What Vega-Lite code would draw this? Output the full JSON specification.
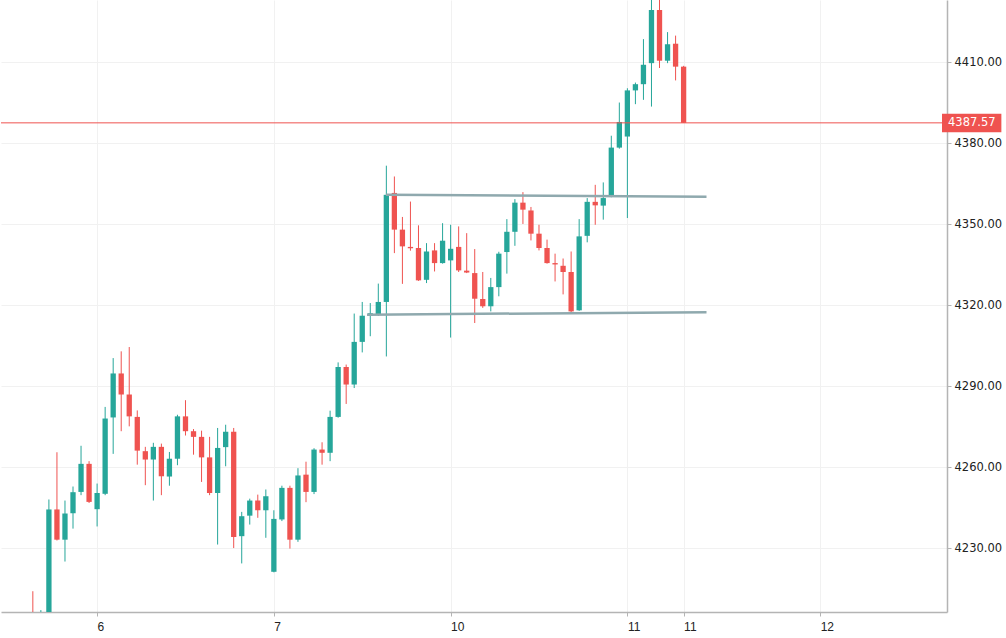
{
  "$schema": "https://vega.github.io/schema/vega-lite/v6.json",
  "width": 946,
  "height": 612,
  "padding": 0,
  "autosize": {"type": "pad"},
  "background": "#ffffff",
  "config": {
    "view": {"stroke": null},
    "axis": {
      "domainColor": "#b4b4b4",
      "domainWidth": 1.5,
      "tickColor": "#b4b4b4",
      "tickSize": 4,
      "gridColor": "#f1f1f1",
      "gridWidth": 1,
      "labelColor": "#222222",
      "labelFont": "DejaVu Sans",
      "labelFontSize": 11.5
    }
  },
  "datasets": {
    "candles": [
      {"i": 0, "o": 4205, "h": 4214, "l": 4195, "c": 4200},
      {"i": 1, "o": 4195, "h": 4207, "l": 4190, "c": 4203},
      {"i": 2, "o": 4203, "h": 4248, "l": 4195, "c": 4244.3},
      {"i": 3, "o": 4244.3, "h": 4265.5, "l": 4232.8, "c": 4233.1},
      {"i": 4, "o": 4233.1, "h": 4247.6, "l": 4225, "c": 4242.8},
      {"i": 5, "o": 4242.9, "h": 4252.8, "l": 4237.2, "c": 4250.7},
      {"i": 6, "o": 4250.8, "h": 4267.9, "l": 4249.6, "c": 4261.2},
      {"i": 7, "o": 4261.2, "h": 4262.2, "l": 4246.7, "c": 4247.1},
      {"i": 8, "o": 4244.4, "h": 4253.9, "l": 4238, "c": 4250.4},
      {"i": 9, "o": 4250.1, "h": 4282.3, "l": 4249.6, "c": 4278},
      {"i": 10, "o": 4278.4, "h": 4300.4, "l": 4264.9, "c": 4294.7},
      {"i": 11, "o": 4294.7, "h": 4302.9, "l": 4273.3, "c": 4286.9},
      {"i": 12, "o": 4286.9, "h": 4304.5, "l": 4275.1, "c": 4278.8},
      {"i": 13, "o": 4278.6, "h": 4281, "l": 4260.9, "c": 4266.1},
      {"i": 14, "o": 4265.9, "h": 4267.5, "l": 4253.3, "c": 4262.8},
      {"i": 15, "o": 4262.8, "h": 4269, "l": 4247.6, "c": 4267.5},
      {"i": 16, "o": 4267.5, "h": 4268.7, "l": 4249.6, "c": 4256.6},
      {"i": 17, "o": 4256.5, "h": 4265.6, "l": 4253.1, "c": 4263.1},
      {"i": 18, "o": 4263.1, "h": 4279.4, "l": 4260.7, "c": 4278.8},
      {"i": 19, "o": 4278.8, "h": 4284.8, "l": 4271.7, "c": 4273.3},
      {"i": 20, "o": 4273.3, "h": 4274.1, "l": 4264.6, "c": 4271.2},
      {"i": 21, "o": 4271.2, "h": 4273.5, "l": 4254.5, "c": 4263.6},
      {"i": 22, "o": 4263.6, "h": 4271.2, "l": 4249.6, "c": 4250.4},
      {"i": 23, "o": 4250.4, "h": 4274.5, "l": 4231.3, "c": 4267.1},
      {"i": 24, "o": 4267.4, "h": 4275.7, "l": 4260.3, "c": 4273.1},
      {"i": 25, "o": 4273.1, "h": 4274.5, "l": 4230, "c": 4234.1},
      {"i": 26, "o": 4234.4, "h": 4243.4, "l": 4224.3, "c": 4241.8},
      {"i": 27, "o": 4242, "h": 4248.3, "l": 4238.7, "c": 4247.6},
      {"i": 28, "o": 4247.6, "h": 4249.8, "l": 4241.2, "c": 4244},
      {"i": 29, "o": 4244, "h": 4251.7, "l": 4233.8, "c": 4249.2},
      {"i": 30, "o": 4221.2, "h": 4244, "l": 4221, "c": 4240.8},
      {"i": 31, "o": 4240.6, "h": 4253.1, "l": 4240, "c": 4252.3},
      {"i": 32, "o": 4252.3, "h": 4253.1, "l": 4229.8, "c": 4233.1},
      {"i": 33, "o": 4233.1, "h": 4259.6, "l": 4232.3, "c": 4256.9},
      {"i": 34, "o": 4257.2, "h": 4262, "l": 4247, "c": 4250.8},
      {"i": 35, "o": 4250.8, "h": 4267, "l": 4250, "c": 4266.5},
      {"i": 36, "o": 4266.5, "h": 4269.2, "l": 4260.9, "c": 4265.3},
      {"i": 37, "o": 4265.3, "h": 4280.9, "l": 4262.2, "c": 4278.6},
      {"i": 38, "o": 4278.6, "h": 4298.8, "l": 4278.3, "c": 4297.1},
      {"i": 39, "o": 4297.1, "h": 4298, "l": 4283.4, "c": 4290.6},
      {"i": 40, "o": 4290.6, "h": 4316.9, "l": 4289.3, "c": 4306.4},
      {"i": 41, "o": 4306.4, "h": 4321.2, "l": 4302.5, "c": 4316.1},
      {"i": 42, "o": 4316.1, "h": 4320.8, "l": 4308.5, "c": 4317},
      {"i": 43, "o": 4316.5, "h": 4328, "l": 4316, "c": 4321.2},
      {"i": 44, "o": 4321.2, "h": 4371.7, "l": 4301, "c": 4360.9},
      {"i": 45, "o": 4361.6, "h": 4367.7, "l": 4339.3, "c": 4348},
      {"i": 46, "o": 4348, "h": 4352.7, "l": 4327.9, "c": 4341.8},
      {"i": 47, "o": 4341.6, "h": 4358.4, "l": 4340.2, "c": 4341.1},
      {"i": 48, "o": 4341.2, "h": 4349.6, "l": 4329, "c": 4329.2},
      {"i": 49, "o": 4329.4, "h": 4343, "l": 4328.2, "c": 4339.9},
      {"i": 50, "o": 4340.3, "h": 4343, "l": 4332.5, "c": 4335.6},
      {"i": 51, "o": 4335.6, "h": 4350.4, "l": 4335.4, "c": 4343.9},
      {"i": 52, "o": 4336.6, "h": 4349.8, "l": 4308, "c": 4340.9},
      {"i": 53, "o": 4341.6, "h": 4349.2, "l": 4332.3, "c": 4332.9},
      {"i": 54, "o": 4332.8, "h": 4346.7, "l": 4331.9, "c": 4332.1},
      {"i": 55, "o": 4331.9, "h": 4340.8, "l": 4313.4, "c": 4322.4},
      {"i": 56, "o": 4322.3, "h": 4332.3, "l": 4319, "c": 4319.6},
      {"i": 57, "o": 4319.6, "h": 4330.1, "l": 4317.7, "c": 4326.7},
      {"i": 58, "o": 4326.7, "h": 4339.8, "l": 4323.3, "c": 4339.1},
      {"i": 59, "o": 4339.7, "h": 4351.9, "l": 4331.7, "c": 4347.2},
      {"i": 60, "o": 4347.2, "h": 4359.3, "l": 4342, "c": 4358},
      {"i": 61, "o": 4358, "h": 4361.9, "l": 4350.1, "c": 4355.4},
      {"i": 62, "o": 4355.1, "h": 4356.4, "l": 4344, "c": 4346.5},
      {"i": 63, "o": 4346.5, "h": 4349.8, "l": 4340.3, "c": 4341.2},
      {"i": 64, "o": 4341.2, "h": 4344.3, "l": 4335.4, "c": 4335.6},
      {"i": 65, "o": 4335.6, "h": 4339.1, "l": 4328.8, "c": 4335.1},
      {"i": 66, "o": 4334.6, "h": 4337.3, "l": 4324, "c": 4332.3},
      {"i": 67, "o": 4332.3, "h": 4339.9, "l": 4317.3, "c": 4317.7},
      {"i": 68, "o": 4318.1, "h": 4351.9, "l": 4317.9, "c": 4345.5},
      {"i": 69, "o": 4345.7, "h": 4359.7, "l": 4343.3, "c": 4358.3},
      {"i": 70, "o": 4358.3, "h": 4364.6, "l": 4349.8, "c": 4357},
      {"i": 71, "o": 4356.9, "h": 4365.5, "l": 4351.7, "c": 4359.7},
      {"i": 72, "o": 4360.3, "h": 4382.8, "l": 4360, "c": 4378.4},
      {"i": 73, "o": 4378.4, "h": 4395.1, "l": 4378, "c": 4387.9},
      {"i": 74, "o": 4382.5, "h": 4400.4, "l": 4352.3, "c": 4399.6},
      {"i": 75, "o": 4399.6, "h": 4402.5, "l": 4394.5, "c": 4401.9},
      {"i": 76, "o": 4401.9, "h": 4418.6, "l": 4396.1, "c": 4409.1},
      {"i": 77, "o": 4409.7, "h": 4436, "l": 4393.6, "c": 4429.4},
      {"i": 78, "o": 4429.4, "h": 4435, "l": 4407.9, "c": 4410.6},
      {"i": 79, "o": 4410.6, "h": 4421.2, "l": 4409.7, "c": 4416.7},
      {"i": 80, "o": 4416.9, "h": 4419.9, "l": 4403.3, "c": 4408.4},
      {"i": 81, "o": 4408.4, "h": 4408.7, "l": 4387.57, "c": 4387.57}
    ],
    "lines": [
      {"i": 43.95, "y1": 4360.9, "x2": 83.85, "y2": 4360.2},
      {"i": 41.6, "y1": 4316.5, "x2": 83.85, "y2": 4317.4}
    ],
    "last": [
      {"i": 113.16, "price": 4387.57, "label": "4387.57", "right": 120.55, "low": 4384.1, "high": 4390.9}
    ]
  },
  "encoding": {
    "x": {
      "field": "i",
      "type": "quantitative",
      "title": null,
      "scale": {"domain": [-3.34, 113.16], "nice": false, "zero": false},
      "axis": {
        "values": [8, 30, 52, 74, 81, 98],
        "labelExpr": "datum.value == 8 ? '6' : datum.value == 30 ? '7' : datum.value == 52 ? '10' : datum.value == 98 ? '12' : '11'",
        "labelAlign": "left",
        "labelPadding": 5,
        "labelFont": "Liberation Sans",
        "labelFontSize": 12,
        "grid": true
      }
    }
  },
  "layer": [
    {
      "data": {"name": "candles"},
      "mark": {"type": "rule", "strokeWidth": 1, "clip": true},
      "encoding": {
        "y": {
          "field": "l",
          "type": "quantitative",
          "title": null,
          "scale": {"domain": [4206.3, 4433.1], "nice": false, "zero": false},
          "axis": {
            "orient": "right",
            "values": [4230, 4260, 4290, 4320, 4350, 4380, 4410],
            "format": ".2f",
            "labelPadding": 3,
            "grid": true
          }
        },
        "y2": {"field": "h"},
        "color": {
          "condition": {"test": "datum.c < datum.o", "value": "#ef5350"},
          "value": "#26a69a"
        }
      }
    },
    {
      "data": {"name": "candles"},
      "mark": {"type": "bar", "size": 5.3, "clip": true},
      "encoding": {
        "y": {
          "field": "o",
          "type": "quantitative",
          "title": null,
          "scale": {"domain": [4206.3, 4433.1], "nice": false, "zero": false},
          "axis": {
            "orient": "right",
            "values": [4230, 4260, 4290, 4320, 4350, 4380, 4410],
            "format": ".2f",
            "labelPadding": 3,
            "grid": true
          }
        },
        "y2": {"field": "c"},
        "color": {
          "condition": {"test": "datum.c < datum.o", "value": "#ef5350"},
          "value": "#26a69a"
        }
      }
    },
    {
      "data": {"name": "lines"},
      "mark": {"type": "rule", "strokeWidth": 2.5, "color": "#8fa9ae", "clip": true},
      "encoding": {
        "x2": {"field": "x2"},
        "y": {
          "field": "y1",
          "type": "quantitative",
          "title": null,
          "scale": {"domain": [4206.3, 4433.1], "nice": false, "zero": false},
          "axis": {
            "orient": "right",
            "values": [4230, 4260, 4290, 4320, 4350, 4380, 4410],
            "format": ".2f",
            "labelPadding": 3,
            "grid": true
          }
        },
        "y2": {"field": "y2"}
      }
    },
    {
      "data": {"name": "last"},
      "mark": {"type": "rule", "strokeWidth": 1, "color": "#ef5350"},
      "encoding": {
        "x": null,
        "y": {
          "field": "price",
          "type": "quantitative",
          "title": null,
          "scale": {"domain": [4206.3, 4433.1], "nice": false, "zero": false},
          "axis": {
            "orient": "right",
            "values": [4230, 4260, 4290, 4320, 4350, 4380, 4410],
            "format": ".2f",
            "labelPadding": 3,
            "grid": true
          }
        }
      }
    },
    {
      "data": {"name": "last"},
      "mark": {"type": "rect", "color": "#ef5350", "clip": false},
      "encoding": {
        "x2": {"field": "right"},
        "y": {
          "field": "low",
          "type": "quantitative",
          "title": null,
          "scale": {"domain": [4206.3, 4433.1], "nice": false, "zero": false},
          "axis": {
            "orient": "right",
            "values": [4230, 4260, 4290, 4320, 4350, 4380, 4410],
            "format": ".2f",
            "labelPadding": 3,
            "grid": true
          }
        },
        "y2": {"field": "high"}
      }
    },
    {
      "data": {"name": "last"},
      "mark": {"type": "text", "align": "left", "baseline": "middle", "dx": 6, "font": "DejaVu Sans", "fontSize": 11.5, "color": "#ffffff", "clip": false},
      "encoding": {
        "y": {
          "field": "price",
          "type": "quantitative",
          "title": null,
          "scale": {"domain": [4206.3, 4433.1], "nice": false, "zero": false},
          "axis": {
            "orient": "right",
            "values": [4230, 4260, 4290, 4320, 4350, 4380, 4410],
            "format": ".2f",
            "labelPadding": 3,
            "grid": true
          }
        },
        "text": {"field": "label"}
      }
    }
  ]
}
